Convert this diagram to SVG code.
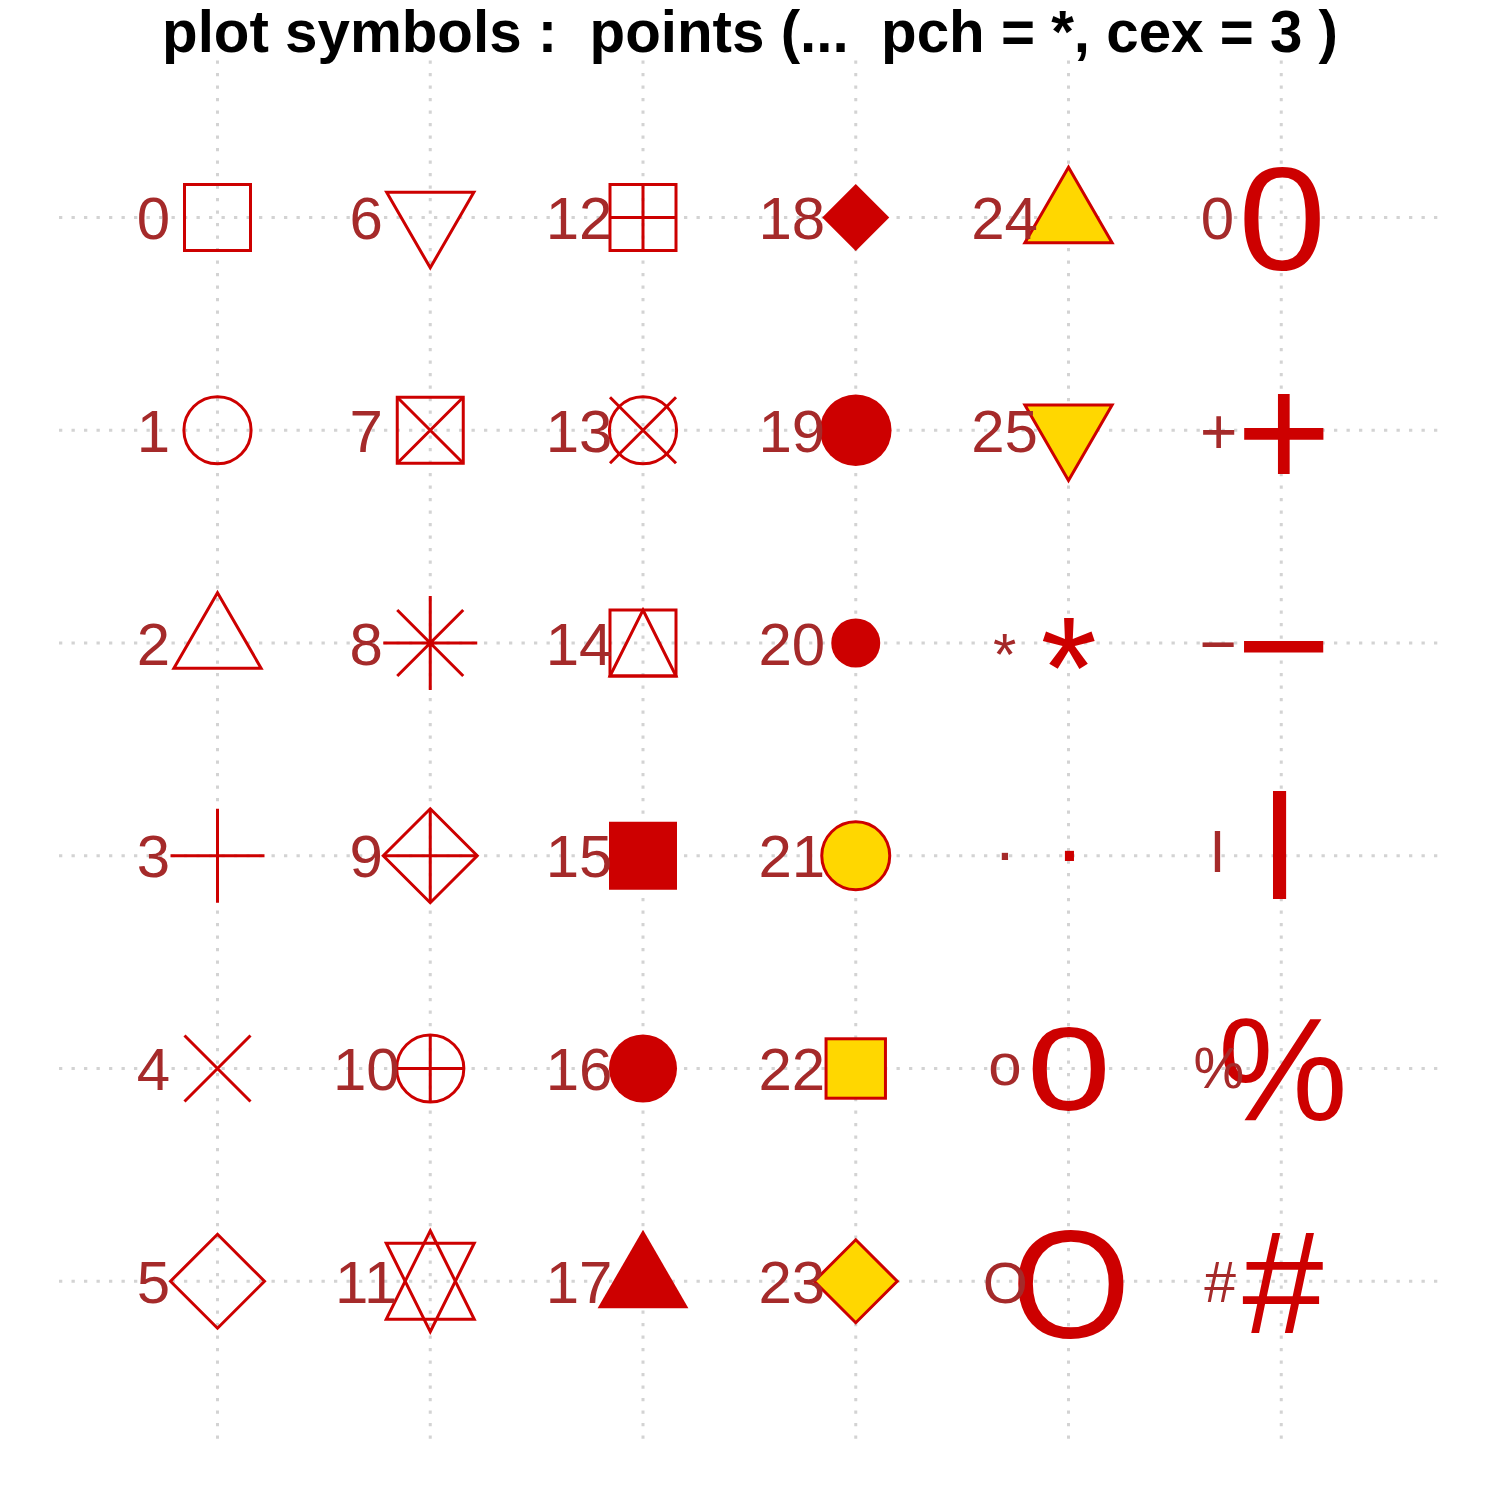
<svg xmlns="http://www.w3.org/2000/svg" width="1500" height="1500" viewBox="0 0 1500 1500">
<style>
.grid{stroke:#D3D3D3;stroke-width:3;stroke-dasharray:3.3 9.2;fill:none}
.sym{fill:none;stroke:#CD0000;stroke-width:3;stroke-linejoin:miter;stroke-linecap:butt}
.fil{fill:#CD0000;stroke:none}
.gold{fill:#FFD700;stroke:#CD0000;stroke-width:3}
.lab{font-family:"Liberation Sans",Arial,sans-serif;font-size:60px;fill:#A52A2A;text-anchor:middle}
.big{font-family:"Liberation Sans",Arial,sans-serif;fill:#CD0000;text-anchor:middle}
.title{font-family:"Liberation Sans",Arial,sans-serif;font-weight:bold;font-size:58.3px;fill:#000;text-anchor:middle;white-space:pre}
</style>
<rect width="1500" height="1500" fill="#fff"/>
<text class="title" x="750" y="51.5">plot symbols :  points (...  pch = *, cex = 3 )</text>
<g id="grid">
<path class="grid" d="M217.5,1438.7V60.1M430.25,1438.7V60.1M643,1438.7V60.1M855.75,1438.7V60.1M1068.5,1438.7V60.1M1281.25,1438.7V60.1"/>
<path class="grid" d="M59,217.5H1440M59,430.25H1440M59,643H1440M59,855.75H1440M59,1068.5H1440M59,1281.25H1440"/>
</g>
<g id="pch-0"><rect class="sym" x="184.5" y="184.5" width="66" height="66"/><text class="lab" x="153.5" y="239">0</text></g>
<g id="pch-1"><circle class="sym" cx="217.5" cy="430.25" r="33.6"/><text class="lab" x="153.5" y="451.75">1</text></g>
<g id="pch-2"><polygon class="sym" points="217.5,592.7 173.9,668.2 261.1,668.2"/><text class="lab" x="153.5" y="664.5">2</text></g>
<g id="pch-3"><path class="sym" d="M170.5,855.75H264.5M217.5,808.75V902.75"/><text class="lab" x="153.5" y="877.25">3</text></g>
<g id="pch-4"><path class="sym" d="M184.5,1035.5L250.5,1101.5M184.5,1101.5L250.5,1035.5"/><text class="lab" x="153.5" y="1090">4</text></g>
<g id="pch-5"><polygon class="sym" points="217.5,1234.25 264.5,1281.25 217.5,1328.25 170.5,1281.25"/><text class="lab" x="153.5" y="1302.75">5</text></g>
<g id="pch-6"><polygon class="sym" points="386.65,192.3 473.85,192.3 430.25,267.8"/><text class="lab" x="366.25" y="239">6</text></g>
<g id="pch-7"><rect class="sym" x="397.25" y="397.25" width="66" height="66"/><path class="sym" d="M397.25,397.25L463.25,463.25M397.25,463.25L463.25,397.25"/><text class="lab" x="366.25" y="451.75">7</text></g>
<g id="pch-8"><path class="sym" d="M383.25,643H477.25M430.25,596V690M397.25,610L463.25,676M397.25,676L463.25,610"/><text class="lab" x="366.25" y="664.5">8</text></g>
<g id="pch-9"><polygon class="sym" points="430.25,808.75 477.25,855.75 430.25,902.75 383.25,855.75"/><path class="sym" d="M383.25,855.75H477.25M430.25,808.75V902.75"/><text class="lab" x="366.25" y="877.25">9</text></g>
<g id="pch-10"><circle class="sym" cx="430.25" cy="1068.5" r="33.6"/><path class="sym" d="M396.65,1068.5H463.85M430.25,1034.9V1102.1"/><text class="lab" x="366.25" y="1090">10</text></g>
<g id="pch-11"><polygon class="sym" points="430.25,1230.75 474.25,1319.25 386.25,1319.25"/><polygon class="sym" points="430.25,1331.75 474.25,1243.25 386.25,1243.25"/><text class="lab" x="366.25" y="1302.75">11</text></g>
<g id="pch-12"><rect class="sym" x="610" y="184.5" width="66" height="66"/><path class="sym" d="M610,217.5H676M643,184.5V250.5"/><text class="lab" x="579" y="239">12</text></g>
<g id="pch-13"><circle class="sym" cx="643" cy="430.25" r="33.6"/><path class="sym" d="M610,397.25L676,463.25M610,463.25L676,397.25"/><text class="lab" x="579" y="451.75">13</text></g>
<g id="pch-14"><rect class="sym" x="610" y="610" width="66" height="66"/><polygon class="sym" points="643,610 676,676 610,676"/><text class="lab" x="579" y="664.5">14</text></g>
<g id="pch-15"><rect class="fil" x="609" y="821.75" width="68" height="68"/><text class="lab" x="579" y="877.25">15</text></g>
<g id="pch-16"><circle class="fil" cx="643" cy="1068.5" r="34"/><text class="lab" x="579" y="1090">16</text></g>
<g id="pch-17"><polygon class="fil" points="643,1229.75 688.4,1308.25 597.6,1308.25"/><text class="lab" x="579" y="1302.75">17</text></g>
<g id="pch-18"><polygon class="fil" points="855.75,184 889.25,217.5 855.75,251 822.25,217.5"/><text class="lab" x="791.75" y="239">18</text></g>
<g id="pch-19"><circle class="fil" cx="855.75" cy="430.25" r="35.8"/><text class="lab" x="791.75" y="451.75">19</text></g>
<g id="pch-20"><circle class="fil" cx="855.75" cy="643" r="24.5"/><text class="lab" x="791.75" y="664.5">20</text></g>
<g id="pch-21"><circle class="gold" cx="855.75" cy="855.75" r="34"/><text class="lab" x="791.75" y="877.25">21</text></g>
<g id="pch-22"><rect class="gold" x="826.05" y="1038.8" width="59.4" height="59.4"/><text class="lab" x="791.75" y="1090">22</text></g>
<g id="pch-23"><polygon class="gold" points="855.75,1239.75 897.25,1281.25 855.75,1322.75 814.25,1281.25"/><text class="lab" x="791.75" y="1302.75">23</text></g>
<g id="pch-24"><polygon class="gold" points="1068.5,167.2 1112.1,242.7 1024.9,242.7"/><text class="lab" x="1004.5" y="239">24</text></g>
<g id="pch-25"><polygon class="gold" points="1024.9,405.05 1112.1,405.05 1068.5,480.55"/><text class="lab" x="1004.5" y="451.75">25</text></g>
<g id="pch-star"><text class="big" x="1068.8" y="718" font-size="145">*</text><text class="lab" x="1004.7" y="674.5">*</text></g>
<g id="pch-dot"><text class="big" x="1069.5" y="861" font-size="95">.</text><text class="lab" x="1005" y="860" style="font-size:66px">.</text></g>
<g id="pch-o"><text class="big" x="1068.8" y="1110" font-size="153">o</text><text class="lab" x="1005" y="1085">o</text></g>
<g id="pch-O"><text class="big" x="1071" y="1337.5" font-size="154">O</text><text class="lab" x="1005.3" y="1302.6" style="font-size:58px">O</text></g>
<g id="pch-zero"><text class="big" transform="translate(1282.2,270) scale(1.08,1)" font-size="146">0</text><text class="lab" x="1217.5" y="238.8">0</text></g>
<g id="pch-plus"><text class="big" x="1283.8" y="487.7" font-size="163">+</text><text class="lab" x="1218.7" y="453.5" style="font-size:64px">+</text></g>
<g id="pch-minus"><text class="big" x="1283.7" y="700.6" font-size="163">−</text><text class="lab" x="1218.3" y="665.7" style="font-size:64px">−</text></g>
<g id="pch-bar"><text class="big" transform="translate(1279.5,873.6) scale(1.41,1)" font-size="115">|</text><text class="lab" transform="translate(1217.5,863.3) scale(1.45,1)" style="font-size:45px">|</text></g>
<g id="pch-percent"><text class="big" x="1282.8" y="1119.5" font-size="146">%</text><text class="lab" x="1218.8" y="1088" style="font-size:57px">%</text></g>
<g id="pch-hash"><text class="big" x="1282.8" y="1333" font-size="146">#</text><text class="lab" x="1220" y="1302" style="font-size:57px">#</text></g>
</svg>
